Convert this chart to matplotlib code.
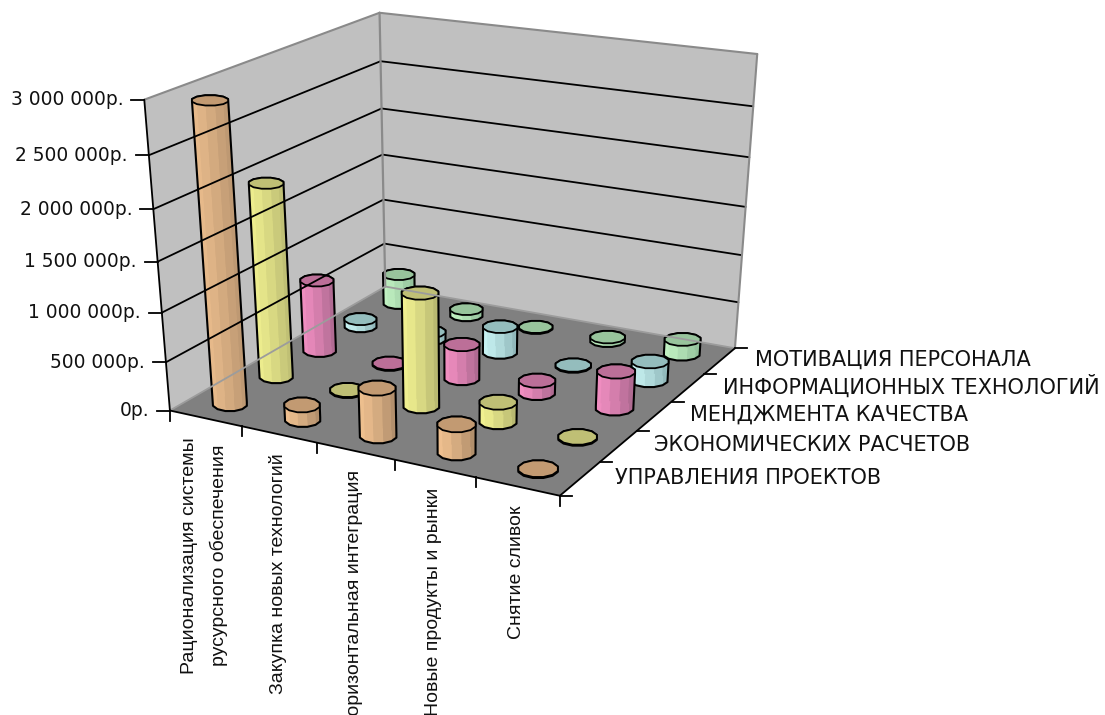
import matplotlib
matplotlib.use('Agg')
import matplotlib.pyplot as plt
import numpy as np

categories = ['Рационализация системы\nрусурсного обеспечения', 'Закупка новых технологий',
              'Горизонтальная интеграция', 'Новые продукты и рынки', 'Снятие сливок']
series_names = ['УПРАВЛЕНИЯ ПРОЕКТОВ', 'ЭКОНОМИЧЕСКИХ РАСЧЕТОВ', 'МЕНДЖМЕНТА КАЧЕСТВА',
                'ИНФОРМАЦИОННЫХ ТЕХНОЛОГИЙ', 'МОТИВАЦИЯ ПЕРСОНАЛА']

upravlenie = [2950000, 150000, 480000, 280000, 10000]
ekonomika = [1980000, 10000, 1150000, 200000, 10000]
menedzhment = [760000, 10000, 360000, 130000, 380000]
it = [80000, 80000, 280000, 10000, 200000]
motivatsiya = [330000, 70000, 10000, 40000, 160000]
values = [upravlenie, ekonomika, menedzhment, it, motivatsiya]

z_ticks = [0, 500000, 1000000, 1500000, 2000000, 2500000, 3000000]
z_labels = ['0р.', '500 000р.', '1 000 000р.', '1 500 000р.', '2 000 000р.', '2 500 000р.', '3 000 000р.']

# side light, side dark, top
colors = [('#f0c190', '#ab8a68', '#c29a72'),
          ('#f2f291', '#b3b36e', '#bfbf75'),
          ('#f28fc2', '#a8668c', '#bc6f98'),
          ('#c8f3f3', '#8cb2b5', '#94bdbd'),
          ('#c2f2c2', '#8fbc98', '#98c49c')]

NX = len(categories)
NY = len(series_names)
ZMAX = z_ticks[-1]
RADIUS_X = 0.24
RADIUS_Y = 0.26

# corners of the plot box: (x, y, z) and where they land on the figure
box_3d = [(0, 0, 0), (NX, 0, 0), (NX, NY, 0), (0, NY, 0),
          (0, 0, 1), (0, NY, 1), (NX, NY, 1)]
box_px = [(170, 410), (560, 496), (735, 348), (385, 287),
          (144, 100), (380, 12.5), (757, 54)]


def fit_camera(pts3, pts2):
    A, b = [], []
    for (x, y, z), (u, v) in zip(pts3, pts2):
        A.append([x, y, z, 1, 0, 0, 0, 0, -u * x, -u * y, -u * z])
        A.append([0, 0, 0, 0, x, y, z, 1, -v * x, -v * y, -v * z])
        b += [u, v]
    p = np.linalg.lstsq(np.array(A, float), np.array(b, float), rcond=None)[0]
    return np.append(p, 1).reshape(3, 4)


cam = fit_camera(box_3d, box_px)


def project(x, y, z):
    # z comes in roubles
    x, y, z = np.broadcast_arrays(x, y, np.asarray(z, float) / ZMAX)
    h = cam @ np.array([x, y, z, np.ones_like(x)], float)
    return np.column_stack([h[0] / h[2], h[1] / h[2]])


def hull(points):
    pts = sorted(map(tuple, points))

    def half(seq):
        out = []
        for p in seq:
            while len(out) > 1:
                a, b = np.subtract(out[-1], out[-2]), np.subtract(p, out[-2])
                if a[0] * b[1] - a[1] * b[0] > 0:
                    break
                out.pop()
            out.append(p)
        return out[:-1]

    return np.array(half(pts) + half(pts[::-1]))


def mix(c1, c2, t):
    a = np.array(matplotlib.colors.to_rgb(c1))
    b = np.array(matplotlib.colors.to_rgb(c2))
    return tuple(a + (b - a) * t)


def ring(x, y, z):
    # upright ellipse around the projected centre, sized from the local axis scale
    t = np.linspace(0, 2 * np.pi, 13)[:-1] + np.pi / 12
    c = project(x, y, z)[0]
    along_x = project(x + RADIUS_X, y, z)[0] - project(x - RADIUS_X, y, z)[0]
    along_y = project(x, y + RADIUS_Y, z)[0] - project(x, y - RADIUS_Y, z)[0]
    rx = 0.5 * np.hypot(*along_x)
    ry = 0.5 * abs(along_y[1])
    return np.column_stack([c[0] + rx * np.cos(t), c[1] + ry * np.sin(t)])


def draw_cylinder(ax, i, j, value, cols):
    base = ring(i + 0.5, j + 0.5, 0)
    top = ring(i + 0.5, j + 0.5, value)
    outline = hull(np.vstack([base, top]))
    ax.fill(outline[:, 0], outline[:, 1], color=cols[0], lw=0)

    xmin, xmax = outline[:, 0].min(), outline[:, 0].max()
    for k in range(len(base)):
        n = (k + 1) % len(base)
        quad = np.array([base[k], base[n], top[n], top[k]])
        frac = (quad[:, 0].mean() - xmin) / (xmax - xmin)
        col = mix(cols[0], cols[1], np.clip(frac, 0, 1) ** 1.3)
        ax.fill(quad[:, 0], quad[:, 1], color=col, lw=0.3)

    ax.fill(outline[:, 0], outline[:, 1], fc='none', ec='black', lw=1.5, joinstyle='round')
    ax.fill(top[:, 0], top[:, 1], fc=cols[2], ec='black', lw=1.3, joinstyle='round')


def draw_line(ax, a, b, **kw):
    pts = project(*zip(a, b))
    ax.plot(pts[:, 0], pts[:, 1], solid_capstyle='round', **kw)


fig = plt.figure(figsize=(11.05, 7.15), dpi=100)
ax = fig.add_axes([0, 0, 1, 1])
ax.set_xlim(0, 1105)
ax.set_ylim(715, 0)
ax.axis('off')

# walls and floor
left_wall = project([0, 0, 0, 0], [0, NY, NY, 0], [0, 0, ZMAX, ZMAX])
back_wall = project([0, NX, NX, 0], [NY, NY, NY, NY], [0, 0, ZMAX, ZMAX])
floor = project([0, NX, NX, 0], [0, 0, NY, NY], [0, 0, 0, 0])
ax.fill(left_wall[:, 0], left_wall[:, 1], fc='#c0c0c0', ec='none')
ax.fill(back_wall[:, 0], back_wall[:, 1], fc='#c0c0c0', ec='none')
ax.fill(floor[:, 0], floor[:, 1], fc='#808080', ec='none')

for z in z_ticks[1:-1]:
    draw_line(ax, (0, 0, z), (0, NY, z), color='black', lw=1.3)
    draw_line(ax, (0, NY, z), (NX, NY, z), color='black', lw=1.3)

# wall rims
gray = '#8a8a8a'
draw_line(ax, (0, 0, ZMAX), (0, NY, ZMAX), color=gray, lw=1.5)
draw_line(ax, (0, NY, ZMAX), (NX, NY, ZMAX), color=gray, lw=1.5)
draw_line(ax, (0, NY, 0), (0, NY, ZMAX), color=gray, lw=1.6)
draw_line(ax, (NX, NY, 0), (NX, NY, ZMAX), color=gray, lw=1.5)
draw_line(ax, (0, 0, 0), (0, NY, 0), color='#9c9c9c', lw=1.3)
draw_line(ax, (0, NY, 0), (NX, NY, 0), color='#9c9c9c', lw=1.3)

# axis lines
draw_line(ax, (0, 0, 0), (0, 0, ZMAX), color='black', lw=1.3)
draw_line(ax, (0, 0, 0), (NX, 0, 0), color='black', lw=1.3)
draw_line(ax, (NX, 0, 0), (NX, NY, 0), color='black', lw=1.3)

# ticks and labels
for z, lab in zip(z_ticks, z_labels):
    px, py = project(0, 0, z)[0]
    ax.plot([px - 13, px], [py, py], color='black', lw=1.3)
    ax.text(px - 21, py, lab, ha='right', va='center', fontsize=13.4, family='DejaVu Sans', color='#111111')

for i in range(NX + 1):
    px, py = project(i, 0, 0)[0]
    ax.plot([px, px], [py, py + 10], color='black', lw=1.3)

for j in range(NY + 1):
    px, py = project(NX, j, 0)[0]
    ax.plot([px, px + 12], [py, py], color='black', lw=1.3)

for i, name in enumerate(categories):
    px, py = project(i + 0.5, 0, 0)[0]
    ax.text(px - 1, py + 19, name, rotation=90, ha='center', va='top', ma='center',
            fontsize=14, family='Liberation Sans', color='#111111', linespacing=1.8)

for j, name in enumerate(series_names):
    px, py = project(NX, j + 0.5, 0)[0]
    ax.text(px + 35, py - 1, name, ha='left', va='center', fontsize=15,
            family='DejaVu Sans', color='#111111')

# columns, far rows first
for j in range(NY - 1, -1, -1):
    for i in range(NX):
        draw_cylinder(ax, i, j, values[j][i], colors[j])

fig.savefig('out.png', dpi=100)
